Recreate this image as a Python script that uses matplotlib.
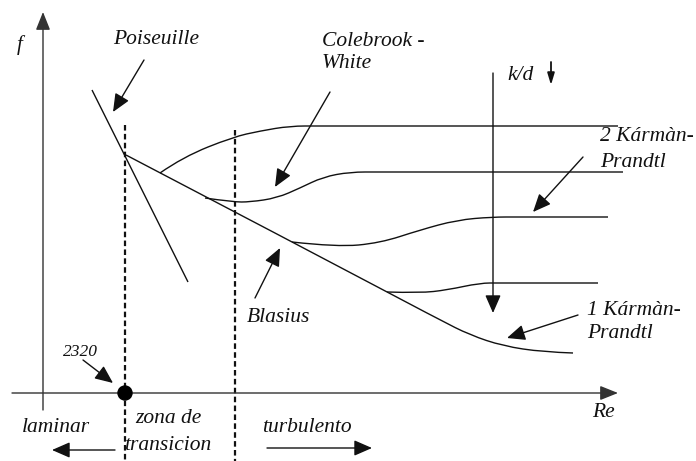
import matplotlib
matplotlib.use("Agg")
import matplotlib.pyplot as plt
from matplotlib.path import Path
from matplotlib.patches import PathPatch, Circle

# ---- data (schematic coordinates, y grows downward) ----
poiseuille_line = [(92, 90), (188, 282)]
blasius_kp1 = [(126, 155), (300, 246), (440, 320), (470, 335), (503, 346), (543, 352), (573, 353)]
cw_curve_a = [(160, 173), (183, 157), (233, 137), (260, 131), (290, 126), (320, 126), (618, 126)]
cw_curve_b = [(205, 198), (233, 202), (250, 202), (277, 198), (300, 188), (323, 177), (350, 172), (380, 172), (623, 172)]
cw_curve_c = [(292, 242), (337, 247), (380, 243), (420, 230), (457, 220), (492, 217), (520, 217), (608, 217)]
cw_curve_d = [(387, 292), (420, 293), (447, 290), (480, 283), (500, 283), (598, 283)]
dashed_x = [125, 235]
dashed_top = [125, 130]
re_2320 = (125, 393)

# texts: (label, x, y, ha, size)
labels = [
    ("f", 20, 45, "center", 15),
    ("Poiseuille", 156, 40, "center", 15.5),
    ("Colebrook -", 322, 41, "left", 15.5),
    ("White", 322, 63, "left", 15.5),
    ("k/d", 507, 75, "left", 15.5),
    ("2 Kármàn-", 600, 136, "left", 15.5),
    ("Prandtl", 600, 162, "left", 15.5),
    ("1 Kármàn-", 587, 310, "left", 15.5),
    ("Prandtl", 587, 333, "left", 15.5),
    ("Blasius", 247, 317, "left", 15.5),
    ("2320", 63, 352, "left", 12.5),
    ("laminar", 22, 427, "left", 15.5),
    ("zona de", 168, 418, "center", 15.5),
    ("transicion", 168, 445, "center", 15.5),
    ("turbulento", 262, 427, "left", 15.5),
    ("Re", 592, 412, "left", 15.5),
]

# annotation arrows: (start, tip)
pointer_arrows = [
    ((144, 60), (113, 112)),   # Poiseuille
    ((330, 92), (275, 187)),   # Colebrook-White
    ((583, 157), (533, 212)),  # 2 Karman-Prandtl
    ((578, 315), (507, 338)),  # 1 Karman-Prandtl
    ((255, 298), (280, 248)),  # Blasius
    ((83, 360), (113, 383)),   # 2320
    ((115, 450), (52, 450)),   # laminar
    ((267, 448), (372, 448)),  # turbulento
    ((493, 73), (493, 313)),   # k/d
]
axis_x = ((12, 393), (618, 393))
axis_y = ((43, 410), (43, 12))
small_arrow = ((551, 62), (551, 85))

plt.rcParams['font.family'] = ['Liberation Serif', 'DejaVu Serif']

fig = plt.figure(figsize=(6.96, 4.61), dpi=100)
ax = fig.add_axes([0, 0, 1, 1])
ax.set_xlim(0, 696)
ax.set_ylim(461, 0)
ax.axis('off')


def smooth_path(pts):
    verts = [pts[0]]
    codes = [Path.MOVETO]
    if len(pts) == 2:
        verts.append(pts[1]); codes.append(Path.LINETO)
        return Path(verts, codes)
    for i in range(1, len(pts) - 1):
        ctrl = pts[i]
        if i < len(pts) - 2:
            end = ((pts[i][0] + pts[i + 1][0]) / 2, (pts[i][1] + pts[i + 1][1]) / 2)
        else:
            end = pts[i + 1]
        verts += [ctrl, end]
        codes += [Path.CURVE3, Path.CURVE3]
    return Path(verts, codes)


lw = 1.0
for pts in [poiseuille_line, blasius_kp1, cw_curve_a, cw_curve_b, cw_curve_c, cw_curve_d]:
    ax.add_patch(PathPatch(smooth_path(pts), fill=False, lw=lw, color='#111111'))

for x, yt in zip(dashed_x, dashed_top):
    ax.plot([x, x], [yt, 461], color='#111111', lw=1.6, linestyle=(0, (2.5, 1.5)))

# axes arrows
for (s, t) in [axis_x, axis_y]:
    ax.annotate('', xy=t, xytext=s,
                arrowprops=dict(arrowstyle='-|>,head_length=0.55,head_width=0.22',
                                mutation_scale=20, lw=1.0, color='#333333',
                                shrinkA=0, shrinkB=0))

for s, t in pointer_arrows:
    ax.annotate('', xy=t, xytext=s,
                arrowprops=dict(arrowstyle='-|>,head_length=0.55,head_width=0.24',
                                mutation_scale=20, lw=1.0, color='#111111',
                                shrinkA=0, shrinkB=0))

ax.annotate('', xy=small_arrow[1], xytext=small_arrow[0],
            arrowprops=dict(arrowstyle='-|>,head_length=0.5,head_width=0.15',
                            mutation_scale=14, lw=1.3, color='#111111',
                            shrinkA=0, shrinkB=0))

ax.add_patch(Circle(re_2320, 7, color='black', zorder=5))

for txt, x, y, ha, sz in labels:
    ax.text(x, y, txt, ha=ha, va='center', fontsize=sz, style='italic', color='#111111')

fig.savefig('out.png', dpi=100)
